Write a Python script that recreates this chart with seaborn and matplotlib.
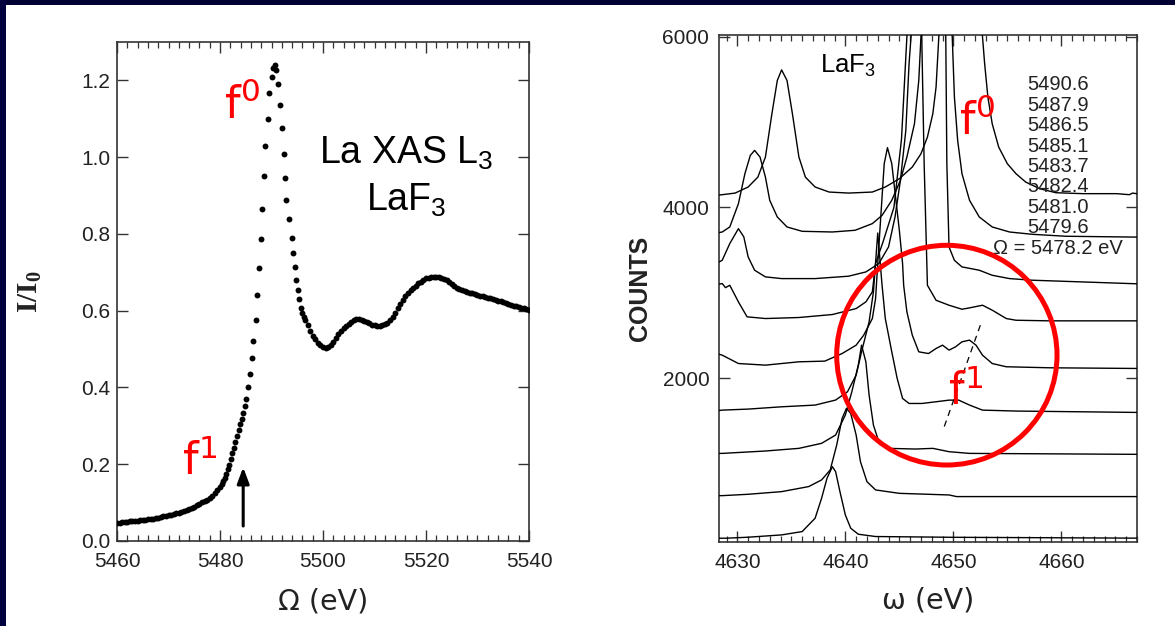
import matplotlib
matplotlib.use("Agg")
import matplotlib.pyplot as plt
from matplotlib.patches import Ellipse, Rectangle
from matplotlib.ticker import MultipleLocator, FormatStrFormatter
import seaborn as sns

# ---------------- data: La L3 XAS of LaF3 (left panel) ----------------
xas_energy = [
    5460.0, 5460.5, 5461.0, 5461.5, 5462.0, 5462.5, 5463.0, 5463.5, 5464.0, 5464.5,
    5465.0, 5465.5, 5466.0, 5466.5, 5467.0, 5467.5, 5468.0, 5468.5, 5469.0, 5469.5,
    5470.0, 5470.5, 5471.0, 5471.5, 5472.0, 5472.5, 5473.0, 5473.5, 5474.0, 5474.5,
    5475.0, 5475.5, 5476.0, 5476.5, 5477.0, 5477.5, 5478.0, 5478.5, 5479.0, 5479.5,
    5480.0, 5480.3, 5480.6, 5480.9, 5481.2, 5481.5, 5481.8, 5482.1, 5482.4, 5482.7,
    5483.0, 5483.3, 5483.6, 5483.9, 5484.2, 5484.5, 5484.8, 5485.1, 5485.4, 5485.8,
    5486.2, 5486.5, 5486.9, 5487.2, 5487.6, 5487.9, 5488.1, 5488.5, 5488.8, 5489.3,
    5489.5, 5490.0, 5490.3, 5490.6, 5490.9, 5491.3, 5491.7, 5492.1, 5492.4, 5492.6,
    5492.9, 5493.3, 5493.9, 5494.2, 5494.5, 5494.8, 5495.1, 5495.4, 5495.7, 5496.0,
    5496.3, 5496.6, 5497.0, 5497.5, 5498.0, 5498.5, 5499.0, 5499.5, 5500.0, 5500.5,
    5501.0, 5501.5, 5502.0, 5502.5, 5503.0, 5503.5, 5504.0, 5504.5, 5505.0, 5505.5,
    5506.0, 5506.5, 5507.0, 5507.5, 5508.0, 5508.5, 5509.0, 5509.5, 5510.0, 5510.5,
    5511.0, 5511.5, 5512.0, 5512.5, 5513.0, 5513.5, 5514.0, 5514.5, 5515.0, 5515.5,
    5516.0, 5516.5, 5517.0, 5517.5, 5518.0, 5518.5, 5519.0, 5519.5, 5520.0, 5520.5,
    5521.0, 5521.5, 5522.0, 5522.5, 5523.0, 5523.5, 5524.0, 5524.5, 5525.0, 5525.5,
    5526.0, 5526.5, 5527.0, 5527.5, 5528.0, 5528.5, 5529.0, 5529.5, 5530.0, 5530.5,
    5531.0, 5531.5, 5532.0, 5532.5, 5533.0, 5533.5, 5534.0, 5534.5, 5535.0, 5535.5,
    5536.0, 5536.5, 5537.0, 5537.5, 5538.0, 5538.5, 5539.0, 5539.5, 5540.0,
]
xas_intensity = [
    0.047, 0.048, 0.049, 0.050, 0.050, 0.051, 0.052, 0.052, 0.053, 0.054,
    0.055, 0.055, 0.056, 0.057, 0.058, 0.059, 0.061, 0.062, 0.064, 0.066,
    0.068, 0.069, 0.071, 0.073, 0.074, 0.076, 0.078, 0.080, 0.083, 0.086,
    0.089, 0.093, 0.097, 0.101, 0.104, 0.108, 0.112, 0.118, 0.126, 0.133,
    0.141, 0.148, 0.156, 0.165, 0.175, 0.187, 0.199, 0.213, 0.228, 0.243,
    0.258, 0.273, 0.289, 0.304, 0.318, 0.333, 0.352, 0.371, 0.400, 0.434,
    0.478, 0.522, 0.577, 0.640, 0.710, 0.787, 0.865, 0.950, 1.030, 1.100,
    1.166, 1.208, 1.232, 1.240, 1.226, 1.190, 1.135, 1.075, 1.008, 0.946,
    0.888, 0.838, 0.790, 0.750, 0.715, 0.680, 0.655, 0.630, 0.607, 0.594,
    0.584, 0.575, 0.563, 0.548, 0.535, 0.525, 0.517, 0.510, 0.506, 0.503,
    0.505, 0.511, 0.519, 0.528, 0.538, 0.547, 0.555, 0.561, 0.566, 0.571,
    0.575, 0.578, 0.578, 0.577, 0.574, 0.570, 0.567, 0.564, 0.562, 0.561,
    0.561, 0.562, 0.565, 0.569, 0.575, 0.584, 0.595, 0.606, 0.617, 0.628,
    0.638, 0.646, 0.653, 0.659, 0.665, 0.671, 0.676, 0.680, 0.684, 0.686,
    0.688, 0.689, 0.689, 0.688, 0.686, 0.683, 0.679, 0.674, 0.669, 0.664,
    0.660, 0.656, 0.653, 0.651, 0.649, 0.647, 0.645, 0.643, 0.641, 0.639,
    0.637, 0.635, 0.634, 0.632, 0.630, 0.628, 0.626, 0.624, 0.622, 0.620,
    0.617, 0.615, 0.613, 0.611, 0.609, 0.607, 0.606, 0.604, 0.603,
]
edge_arrow_energy = 5484.5

# ---------------- data: emission spectra (right panel) ----------------
omega_labels = ["5490.6", "5487.9", "5486.5", "5485.1", "5483.7",
                "5482.4", "5481.0", "5479.6"]
last_label = "Ω = 5478.2 eV"

c1_e = [4628.3, 4628.6, 4629.8, 4631.0, 4631.9, 4632.6, 4633.2, 4633.7, 4634.1, 4634.6,
        4635.1, 4635.7, 4636.3, 4637.2, 4638.5, 4640.3, 4642.5, 4643.7, 4645.0, 4646.2,
        4647.0, 4647.6, 4648.1, 4648.4, 4648.7, 4649.3, 4650.5, 4651.8, 4652.7, 4652.9,
        4653.2, 4653.6, 4654.2, 4655.0, 4655.8, 4656.7, 4658.0, 4659.5, 4662.0, 4665.1,
        4666.3, 4666.6, 4667.0]
c1_counts = [4145, 4149, 4168, 4239, 4355, 4590, 5097, 5487, 5611, 5487,
             5097, 4590, 4355, 4239, 4180, 4168, 4180, 4239, 4336, 4473,
             4628, 4824, 5097, 5409, 6100, 7200, 8000, 7200, 6000, 5682,
             5292, 4980, 4707, 4512, 4395, 4297, 4219, 4172, 4161, 4161,
             4149, 4168, 4160]

c2_e = [4628.3, 4628.6, 4629.3, 4630.1, 4630.7, 4631.2, 4631.6, 4632.1, 4632.6, 4633.0,
        4633.7, 4634.6, 4636.0, 4638.8, 4640.9, 4642.5, 4643.4, 4644.3, 4645.1, 4645.7,
        4646.4, 4646.8, 4647.0, 4647.8, 4648.8, 4649.9, 4650.1, 4650.4, 4650.8, 4651.5,
        4652.4, 4653.6, 4655.2, 4657.3, 4660.4, 4667.0]
c2_counts = [3705, 3712, 3771, 4044, 4395, 4609, 4668, 4590, 4355, 4083,
             3888, 3771, 3720, 3712, 3732, 3810, 3907, 4083, 4317, 4590,
             4980, 5487, 5994, 7500, 7800, 5994, 5292, 4785, 4395, 4083,
             3888, 3771, 3712, 3685, 3662, 3652]

c3_e = [4628.3, 4628.6, 4629.3, 4630.1, 4630.6, 4631.0, 4631.6, 4632.6, 4634.1, 4637.2,
        4640.3, 4641.9, 4643.1, 4644.0, 4644.6, 4645.1, 4645.6, 4645.9, 4646.2, 4647.5,
        4649.0, 4649.3, 4649.4, 4649.6, 4650.1, 4650.8, 4652.4, 4653.6, 4655.2, 4657.3,
        4667.0]
c3_counts = [3360, 3381, 3576, 3751, 3654, 3420, 3264, 3186, 3166, 3166,
             3194, 3244, 3342, 3537, 3888, 4317, 4902, 5682, 6200, 8000,
             6500, 5994, 4512, 3537, 3380, 3303, 3264, 3205, 3166, 3147,
             3105]

c4_e = [4628.3, 4628.6, 4628.9, 4629.3, 4630.1, 4630.9, 4632.6, 4635.7, 4638.8, 4641.0,
        4641.9, 4642.5, 4642.8, 4643.5, 4644.5, 4645.2, 4645.7, 4646.5, 4647.0, 4647.3,
        4647.6, 4648.4, 4649.6, 4650.8, 4651.5, 4652.7, 4653.6, 4654.9, 4655.8, 4658.9,
        4667.0]
c4_counts = [3100, 3108, 3060, 3088, 2893, 2718, 2698, 2710, 2745, 2815,
             2893, 3010, 3342, 3600, 4000, 4800, 6000, 8000, 6500, 4500,
             3088, 2912, 2854, 2807, 2823, 2854, 2796, 2698, 2678, 2671,
             2671]

c5_e = [4628.3, 4628.6, 4630.1, 4632.6, 4635.7, 4638.1, 4639.7, 4641.0, 4641.7, 4642.5,
        4642.8, 4643.0, 4643.3, 4643.6, 4643.9, 4644.3, 4644.65, 4645.0, 4645.3, 4645.4,
        4645.7, 4646.2, 4646.8, 4647.7, 4648.4, 4649.0, 4649.6, 4650.2, 4650.8, 4651.5,
        4652.1, 4652.7, 4653.6, 4654.9, 4658.9, 4667.0]
c5_counts = [2280, 2269, 2171, 2152, 2191, 2199, 2288, 2386, 2503, 2698,
             2932, 3341, 3927, 4512, 4700, 4512, 4122, 3732, 3342, 3088,
             2776, 2503, 2308, 2288, 2347, 2386, 2328, 2366, 2425, 2445,
             2386, 2269, 2171, 2133, 2121, 2113]

c6_e = [4628.3, 4628.6, 4631.0, 4634.1, 4637.2, 4639.1, 4640.2, 4641.0, 4641.5, 4642.2,
        4642.6, 4643.0, 4643.4, 4643.7, 4644.3, 4644.8, 4645.3, 4645.9, 4647.1, 4648.4,
        4649.6, 4650.5, 4651.5, 4652.7, 4655.8, 4667.0]
c6_counts = [1620, 1625, 1637, 1664, 1684, 1743, 1840, 2035, 2308, 2659,
             3010, 3700, 3088, 2698, 2308, 1996, 1762, 1703, 1703, 1723,
             1742, 1742, 1684, 1625, 1614, 1598]

c7_e = [4628.3, 4628.6, 4632.6, 4635.7, 4637.8, 4639.1, 4640.0, 4640.6, 4641.2, 4641.5,
        4641.9, 4642.2, 4642.6, 4643.1, 4644.0, 4646.5, 4648.1, 4649.6, 4651.5, 4667.0]
c7_counts = [1118, 1118, 1146, 1177, 1236, 1333, 1567, 1840, 2152, 2386,
             2191, 1801, 1450, 1255, 1177, 1169, 1177, 1138, 1118, 1107]

c8_e = [4628.3, 4628.6, 4631.0, 4634.1, 4636.6, 4637.8, 4638.6, 4639.2, 4639.7, 4640.1,
        4640.5, 4641.0, 4641.4, 4642.0, 4642.8, 4645.0, 4649.6, 4650.3, 4667.0]
c8_counts = [623, 623, 639, 670, 729, 807, 924, 1216, 1528, 1645,
             1586, 1333, 1021, 787, 690, 650, 631, 612, 612]

c9_e = [4628.3, 4628.9, 4631.0, 4634.1, 4636.0, 4637.2, 4637.8, 4638.3, 4638.8, 4639.1,
        4639.5, 4640.0, 4640.5, 4641.2, 4642.8, 4650.0, 4667.0]
c9_counts = [124, 124, 136, 163, 202, 358, 592, 826, 963, 904,
             670, 397, 241, 171, 144, 135, 125]

f1_guide_e = [4652.5, 4649.1]
f1_guide_counts = [2620, 1411]

# ---------------- style ----------------
sns.set_theme(style="white", context="notebook")
plt.rcParams["font.family"] = ["Liberation Sans", "DejaVu Sans"]
plt.rcParams["mathtext.default"] = "regular"

INK = "#222222"
SPINE = "#333333"
NAVY = "#000033"

fig = plt.figure(figsize=(11.75, 6.26), dpi=100)
fig.patch.set_facecolor("white")
fig.add_artist(Rectangle((0, 1 - 5 / 626), 1, 5 / 626, transform=fig.transFigure,
                         color=NAVY, lw=0, zorder=0))
fig.add_artist(Rectangle((0, 0), 6 / 1175, 1, transform=fig.transFigure,
                         color="#00003f", lw=0, zorder=0))

ax1 = fig.add_axes([0.0996, 0.1358, 0.3506, 0.7971])
ax2 = fig.add_axes([0.6119, 0.1342, 0.3557, 0.8099])

for ax in (ax1, ax2):
    ax.set_facecolor("white")
    for sp in ax.spines.values():
        sp.set_visible(True)
        sp.set_color(SPINE)
        sp.set_linewidth(1.2)
    ax.tick_params(which="both", direction="in", top=True, right=True,
                   bottom=True, left=True, color=SPINE, labelcolor=INK,
                   labelsize=15)
    ax.tick_params(which="major", length=8, width=1.0)
    ax.tick_params(which="minor", length=4, width=0.9)
    ax.tick_params(axis="x", pad=8)
    ax.grid(False)

# ---------------- left panel ----------------
sns.scatterplot(x=xas_energy, y=xas_intensity, ax=ax1, color="black",
                s=18, linewidth=0, legend=False, zorder=3)
ax1.set_xlim(5460, 5540)
ax1.set_ylim(0, 1.3)
ax1.xaxis.set_major_locator(MultipleLocator(20))
ax1.xaxis.set_minor_locator(MultipleLocator(2))
ax1.yaxis.set_major_locator(MultipleLocator(0.2))
ax1.yaxis.set_major_formatter(FormatStrFormatter("%.1f"))
ax1.tick_params(axis="y", pad=5)

ax1.set_xlabel("Ω (eV)", fontsize=20.5, family="DejaVu Sans", color=INK)
ax1.xaxis.set_label_coords(0.5, -0.122)
ax1.xaxis.label.set_va("center")
ax1.set_ylabel("I/I$_0$", fontsize=21, family="Liberation Serif",
               fontweight="bold", color=INK)
ax1.yaxis.set_label_coords(-0.211, 0.5)
ax1.yaxis.label.set_va("center")

ax1.annotate("", xy=(edge_arrow_energy, 0.192), xytext=(edge_arrow_energy, 0.039),
             arrowprops=dict(arrowstyle="-|>,head_length=0.8,head_width=0.3",
                             color="black", lw=2.2, mutation_scale=12,
                             shrinkA=0, shrinkB=0))
ax1.text(5516.1, 0.982, "La XAS L$_3$", fontsize=27, ha="center", va="baseline", color="black")
ax1.text(5516.1, 0.86, "LaF$_3$", fontsize=27, ha="center", va="baseline", color="black")
ax1.text(5480.8, 1.099, "f$^0$", fontsize=32, family="DejaVu Sans", color="red",
         ha="left", va="baseline")
ax1.text(5472.6, 0.171, "f$^1$", fontsize=32, family="DejaVu Sans", color="red",
         ha="left", va="baseline")

# ---------------- right panel ----------------
curves = [(c1_e, c1_counts), (c2_e, c2_counts), (c3_e, c3_counts),
          (c4_e, c4_counts), (c5_e, c5_counts), (c6_e, c6_counts),
          (c7_e, c7_counts), (c8_e, c8_counts), (c9_e, c9_counts)]
for e, c in curves:
    sns.lineplot(x=e, y=c, ax=ax2, color="black", linewidth=1.0,
                 sort=False, estimator=None, zorder=3)
ax2.plot(f1_guide_e, f1_guide_counts, color="black", lw=0.9, ls=(0, (5, 4)), zorder=3)

ax2.set_xlim(4628.3, 4667.0)
ax2.set_ylim(80, 6020)
ax2.xaxis.set_major_locator(MultipleLocator(10))
ax2.xaxis.set_minor_locator(MultipleLocator(1))
ax2.set_yticks([2000, 4000, 6000])
ax2.tick_params(axis="y", pad=7)

ax2.set_xlabel("ω (eV)", fontsize=20.5, family="DejaVu Sans", color=INK)
ax2.xaxis.set_label_coords(0.5, -0.116)
ax2.xaxis.label.set_va("center")
ax2.set_ylabel("COUNTS", fontsize=18, fontweight="bold", color=INK)
ax2.yaxis.set_label_coords(-0.189, 0.5)
ax2.yaxis.label.set_va("center")

ax2.text(4637.7, 5580, "LaF$_3$", fontsize=18.5, ha="left", va="baseline", color="black")
for i, lab in enumerate(omega_labels):
    ax2.text(0.737, 0.9014 - i * 0.0402, lab, transform=ax2.transAxes,
             fontsize=14.5, ha="left", va="center", color=INK, zorder=4)
ax2.text(0.6555, 0.9014 - len(omega_labels) * 0.0402, last_label,
         transform=ax2.transAxes, fontsize=14.5, ha="left", va="center",
         color=INK, zorder=4)

ax2.text(4650.5, 4843, "f$^0$", fontsize=32, family="DejaVu Sans", color="red",
         ha="left", va="baseline", zorder=5)
ax2.text(4649.5, 1684, "f$^1$", fontsize=32, family="DejaVu Sans", color="red",
         ha="left", va="baseline", zorder=5)
ax2.add_patch(Ellipse((4649.4, 2269), width=20.4, height=2574, fill=False,
                      edgecolor="red", lw=3.6, zorder=6))

fig.savefig("out.png", dpi=100, facecolor="white")
